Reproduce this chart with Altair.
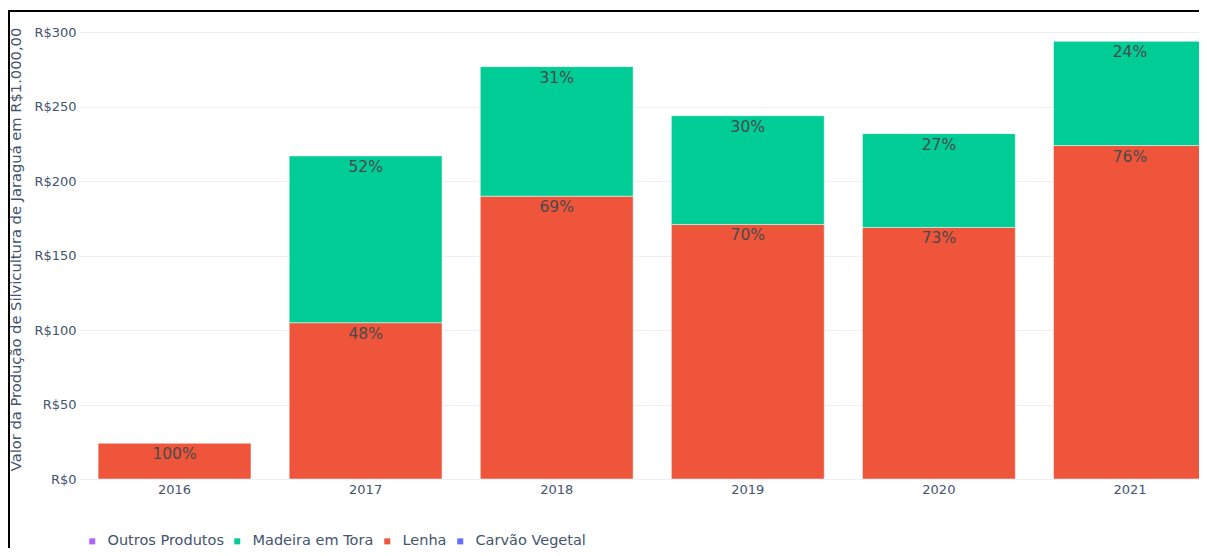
import altair as alt
import pandas as pd

anos = ["2016", "2017", "2018", "2019", "2020", "2021"]
lenha = [24, 105, 190, 171, 169, 224]
madeira = [None, 112, 87, 73, 63, 70]
lenha_pct = ["100%", "48%", "69%", "70%", "73%", "76%"]
madeira_pct = [None, "52%", "31%", "30%", "27%", "24%"]

produtos = ["Outros Produtos", "Madeira em Tora", "Lenha", "Carvão Vegetal"]
cores = ["#AB63FA", "#00CC96", "#EF553B", "#636EFA"]
y_ticks = [0, 50, 100, 150, 200, 250, 300]

rows = []
for i, a in enumerate(anos):
    rows.append({"ano": a, "produto": "Lenha", "valor": lenha[i], "rotulo": lenha_pct[i], "ordem": 1})
    if madeira[i] is not None:
        rows.append({"ano": a, "produto": "Madeira em Tora", "valor": madeira[i], "rotulo": madeira_pct[i], "ordem": 2})
df = pd.DataFrame(rows)

FONT = "DejaVu Sans"
TXT = "#44546e"

base = alt.Chart(df).transform_stack(
    stack="valor", groupby=["ano"], sort=[alt.SortField("ordem")], as_=["v0", "v1"]
)

xenc = alt.X(
    "ano:N",
    scale=alt.Scale(range=[0, 1146.5], paddingInner=0.2, paddingOuter=0.1),
    axis=alt.Axis(title=None, labelAngle=0, domain=False, ticks=False, labelPadding=4,
                  labelFont=FONT, labelFontSize=13, labelColor=TXT),
)

bars = base.mark_bar(stroke="white", strokeWidth=0.5).encode(
    x=xenc,
    y=alt.Y(
        "v0:Q",
        scale=alt.Scale(domain=[0, 309], nice=False, zero=True),
        axis=alt.Axis(
            values=y_ticks, labelExpr="'R$' + datum.value", domain=False, ticks=False,
            labelPadding=3, labelFont=FONT, labelFontSize=13, labelColor=TXT,
            gridColor="#EBF0F8", gridWidth=1,
            title="Valor da Produção de Silvicultura de Jaraguá em R$1.000,00",
            titleFont=FONT, titleFontSize=14.7, titleFontWeight="normal", titleColor=TXT,
            titlePadding=10,
        ),
    ),
    y2="v1:Q",
    color=alt.Color(
        "produto:N",
        scale=alt.Scale(domain=produtos, range=cores),
        legend=alt.Legend(
            title=None, orient="none", legendX=6, legendY=515, direction="horizontal",
            symbolType="square", symbolSize=36, symbolStrokeWidth=0, symbolOpacity=1,
            labelFont=FONT, labelFontSize=14.5, labelColor=TXT, labelOffset=8,
            columnPadding=6, padding=0,
        ),
    ),
)

texts = base.mark_text(baseline="top", dy=4, font=FONT, fontSize=15.5, color="#4a4a4a").encode(
    x=alt.X("ano:N"),
    y=alt.Y("v1:Q"),
    text="rotulo:N",
)

frame_df = pd.DataFrame({"k": [0]})
top_rule = alt.Chart(frame_df).mark_rule(color="black", strokeWidth=2).encode(
    x=alt.value(-71), x2=alt.value(1200), y=alt.value(-8)
)
left_rule = alt.Chart(frame_df).mark_rule(color="black", strokeWidth=2).encode(
    x=alt.value(-70), y=alt.value(-8), y2=alt.value(600)
)

chart = alt.layer(bars, texts, top_rule, left_rule).properties(
    width=1120, height=460,
    autosize=alt.AutoSizeParams(type="none"),
    padding={"left": 71, "top": 11, "right": 0, "bottom": 69},
    background="white",
).configure_view(strokeWidth=0)

chart.save("out.html", embed_options={"renderer": "svg", "actions": False})
